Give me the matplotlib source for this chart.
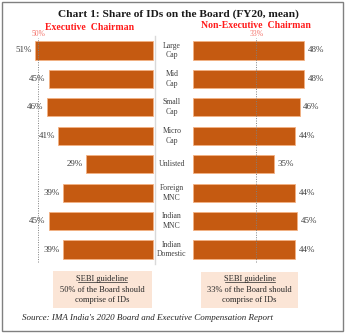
import matplotlib
matplotlib.use("Agg")
import matplotlib.pyplot as plt
import matplotlib.transforms as mtrans
from matplotlib.patches import Rectangle
from matplotlib.lines import Line2D
import numpy as np

plt.rcParams['font.family'] = ['Liberation Serif', 'DejaVu Serif']

categories = ["Large\nCap", "Mid\nCap", "Small\nCap", "Micro\nCap", "Unlisted",
              "Foreign\nMNC", "Indian\nMNC", "Indian\nDomestic"]
exec_chair = [51, 45, 46, 41, 29, 39, 45, 39]
nonexec_chair = [48, 48, 46, 44, 35, 44, 45, 44]
guide_exec = 50
guide_nonexec = 27   # dotted line sits here in the original, labelled 33%
guide_exec_label = "50%"
guide_nonexec_label = "33%"

bar_col = "#c55a11"
W, H = 345, 336
fig = plt.figure(figsize=(W / 100, H / 100), dpi=100)

def px(x0, y0, x1, y1):
    # pixel box (from top-left) -> figure fraction rect
    return [x0 / W, 1 - y1 / H, (x1 - x0) / W, (y1 - y0) / H]

axL = fig.add_axes(px(30, 36, 155, 264))
axR = fig.add_axes(px(190, 36, 320, 264))
y = np.arange(len(categories))

axL.barh(y, exec_chair, height=0.64, color=bar_col, edgecolor="#f4b183", linewidth=0.6)
axL.set_xlim(53.25, -0.87)
axR.barh(y, nonexec_chair, height=0.64, color=bar_col, edgecolor="#f4b183", linewidth=0.6)
axR.set_xlim(-1.29, 54.7)

for ax in (axL, axR):
    ax.set_ylim(7.51, -0.51)
    ax.set_xticks([])
    ax.set_yticks([])
    for s in ax.spines.values():
        s.set_visible(False)
    ax.patch.set_alpha(0)

axL.spines['right'].set_visible(True)
axL.spines['right'].set_color("#d9d9d9")
axL.spines['right'].set_linewidth(1.0)

axL.axvline(guide_exec, ymin=0.01, ymax=0.99, color="#7f7f7f", ls=(0, (1, 1.5)), lw=0.7)
axR.axvline(guide_nonexec, ymin=0.01, ymax=0.99, color="#7f7f7f", ls=(0, (1, 1.5)), lw=0.7)

for i, v in enumerate(exec_chair):
    axL.annotate(f"{v}%", (v, i), xytext=(-2.5, 0), textcoords="offset points",
                 ha="right", va="center", fontsize=6.5, color="#404040")
for i, v in enumerate(nonexec_chair):
    axR.annotate(f"{v}%", (v, i), xytext=(2.5, 0), textcoords="offset points",
                 ha="left", va="center", fontsize=6.5, color="#404040")

tr = mtrans.blended_transform_factory(fig.transFigure, axL.transData)
for i, c in enumerate(categories):
    fig.text(172 / W, i, c, transform=tr, ha="center", va="center",
             fontsize=5.6, color="#404040", linespacing=1.3)

fig.text(178 / W, 1 - 14 / H, "Chart 1: Share of IDs on the Board (FY20, mean)",
         ha="center", va="center", fontsize=8.2, fontweight="bold", color="#1a1a1a")
fig.text(90 / W, 1 - 28 / H, "Executive  Chairman", ha="center", va="center",
         fontsize=7, fontweight="bold", color="#ff1a1a")
fig.text(256 / W, 1 - 26 / H, "Non-Executive  Chairman", ha="center", va="center",
         fontsize=7, fontweight="bold", color="#ff1a1a")
fig.text(38.5 / W, 1 - 34 / H, guide_exec_label, ha="center", va="center",
         fontsize=5.5, color="#f4756d")
fig.text(257 / W, 1 - 34 / H, guide_nonexec_label, ha="center", va="center",
         fontsize=5.5, color="#f4756d")

# SEBI guideline boxes
boxes = [((53, 271, 152, 308), "50% of the Board should"),
         ((201, 272, 298, 308), "33% of the Board should")]
heads = []
for (x0, y0, x1, y1), line in boxes:
    fig.patches.append(Rectangle((x0 / W, 1 - y1 / H), (x1 - x0) / W, (y1 - y0) / H,
                                 transform=fig.transFigure, facecolor="#fbe5d6",
                                 edgecolor="none", zorder=0))
    cx = (x0 + x1) / 2 / W
    heads.append(fig.text(cx, 1 - 279 / H, "SEBI guideline", ha="center", va="center",
                          fontsize=6, color="#262626"))
    fig.text(cx, 1 - 289.5 / H, line, ha="center", va="center", fontsize=6, color="#262626")
    fig.text(cx, 1 - 300 / H, "comprise of IDs", ha="center", va="center",
             fontsize=6, color="#262626")

fig.text(148 / W, 1 - 318 / H,
         "Source: IMA India's 2020 Board and Executive Compensation Report",
         ha="center", va="center", fontsize=6.5, style="italic", color="#262626")

fig.patches.append(Rectangle((2 / W, 1 - 331 / H), 341 / W, 329 / H,
                             transform=fig.transFigure, facecolor="none",
                             edgecolor="#808080", linewidth=1.0))

fig.canvas.draw()
r = fig.canvas.get_renderer()
for t in heads:
    bb = t.get_window_extent(r).transformed(fig.transFigure.inverted())
    pad = 1.0 / W
    fig.lines.append(Line2D([bb.x0 + pad, bb.x1 - pad], [bb.y0 + 0.003, bb.y0 + 0.003],
                            transform=fig.transFigure, color="#262626", lw=0.5))

fig.savefig("out.png", dpi=100)
